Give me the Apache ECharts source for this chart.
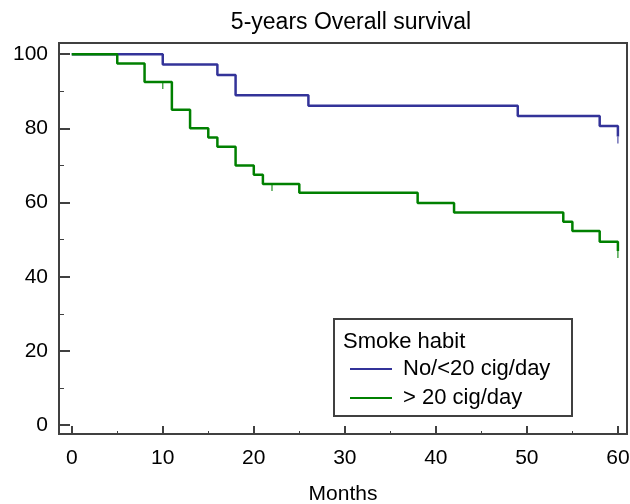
<!DOCTYPE html>
<html><head><meta charset="utf-8">
<script src="https://cdn.jsdelivr.net/npm/echarts@6/dist/echarts.min.js"></script>
<style>html,body{margin:0;padding:0;background:#fff}#c{width:630px;height:504px}</style>
</head><body><div id="c"></div>
<script>
// Kaplan-Meier steps: [month, survival %]
const lowSmokeSteps = [[0,100],[10,97.2],[16,94.4],[18,88.9],[26,86.1],[49,83.3],[58,80.6],[60,77.8]];
const highSmokeSteps = [[0,100],[5,97.5],[8,92.5],[11,85],[13,80],[15,77.5],[16,75],[18,70],[20,67.5],[21,65],[25,62.6],[38,59.9],[42,57.3],[54,54.8],[55,52.3],[58,49.4],[60,46.9]];
// censored observations
const lowSmokeCensored = [[60,77.8]];
const highSmokeCensored = [[10,92.5],[22,65],[60,46.9]];
const seriesNames = ['No/<20 cig/day', '> 20 cig/day'];
const xMajorTicks = [0,10,20,30,40,50,60];
const xMinorTicks = [5,15,25,35,45,55];
const yMajorTicks = [0,20,40,60,80,100];
const yMinorTicks = [10,30,50,70,90];
const titleText = '5-years Overall survival';
const legendTitle = 'Smoke habit';
const xName = 'Months';

const FONT = '"Liberation Sans", Arial, sans-serif';
const AX = '#404040';
const BLUE = '#333399', GREEN = '#008000';
const chart = echarts.init(document.getElementById('c'), null, {renderer:'canvas'});
const xBase = {type:'value', min:-1.4, max:61, gridIndex:0, splitLine:{show:false}};
const yBase = {type:'value', min:-2.4, max:103, gridIndex:0, splitLine:{show:false}};
chart.setOption({
  animation:false,
  title:{text:titleText, left:346, top:6, textAlign:'center',
    textStyle:{fontFamily:FONT, fontSize:23, fontWeight:'normal', color:'#000'}},
  grid:{left:59, right:3, top:43, bottom:70, containLabel:false, outerBoundsMode:'none',
    show:true, borderColor:AX, borderWidth:2},
  legend:{data:seriesNames, orient:'vertical', left:345, top:353, icon:'rect', itemWidth:42, itemHeight:2, itemGap:7,
    textStyle:{fontFamily:FONT, fontSize:22, color:'#000', padding:[0,0,0,6], lineHeight:22}},
  graphic:[
    {type:'rect', shape:{x:334, y:319, width:238, height:97}, style:{fill:'#fff', stroke:AX, lineWidth:2}, z:1},
    {type:'text', x:343, y:342, style:{text:legendTitle, font:'22px ' + FONT, fill:'#000', verticalAlign:'middle'}, z:2}
  ],
  xAxis:[
    Object.assign({}, xBase, {position:'bottom',
      axisLine:{show:true, onZero:false, lineStyle:{color:AX, width:2}},
      axisTick:{show:true, inside:true, length:8, customValues:xMajorTicks, lineStyle:{color:AX, width:2}},
      axisLabel:{show:true, customValues:xMajorTicks, margin:14, color:'#000', fontFamily:FONT, fontSize:21},
      name:xName, nameLocation:'middle', nameGap:50, nameTextStyle:{color:'#000', fontFamily:FONT, fontSize:21}}),
    Object.assign({}, xBase, {position:'bottom', offset:0,
      axisLine:{show:false, onZero:false},
      axisTick:{show:true, inside:true, length:3, customValues:xMinorTicks, lineStyle:{color:AX, width:1}},
      axisLabel:{show:false}})
  ],
  yAxis:[
    Object.assign({}, yBase, {position:'left',
      axisLine:{show:true, onZero:false, lineStyle:{color:AX, width:2}},
      axisTick:{show:true, inside:true, length:11, customValues:yMajorTicks, lineStyle:{color:AX, width:2}},
      axisLabel:{show:true, customValues:yMajorTicks, margin:11, color:'#000', fontFamily:FONT, fontSize:21}}),
    Object.assign({}, yBase, {position:'left', offset:0,
      axisLine:{show:false, onZero:false},
      axisTick:{show:true, inside:true, length:5, customValues:yMinorTicks, lineStyle:{color:AX, width:1}},
      axisLabel:{show:false}})
  ],
  series:[
    {name:seriesNames[0], type:'line', step:'end', data:lowSmokeSteps, symbol:'none', color:BLUE,
      lineStyle:{color:BLUE, width:2.5}, z:3},
    {name:seriesNames[1], type:'line', step:'end', data:highSmokeSteps, symbol:'none', color:GREEN,
      lineStyle:{color:GREEN, width:2.5}, z:3},
    {name:'c0', type:'scatter', data:lowSmokeCensored, symbol:'rect', symbolSize:[1.3,7], symbolOffset:[0,'50%'],
      itemStyle:{color:BLUE}, z:3},
    {name:'c1', type:'scatter', data:highSmokeCensored, symbol:'rect', symbolSize:[1.3,7], symbolOffset:[0,'50%'],
      itemStyle:{color:GREEN}, z:3}
  ]
});
</script></body></html>
